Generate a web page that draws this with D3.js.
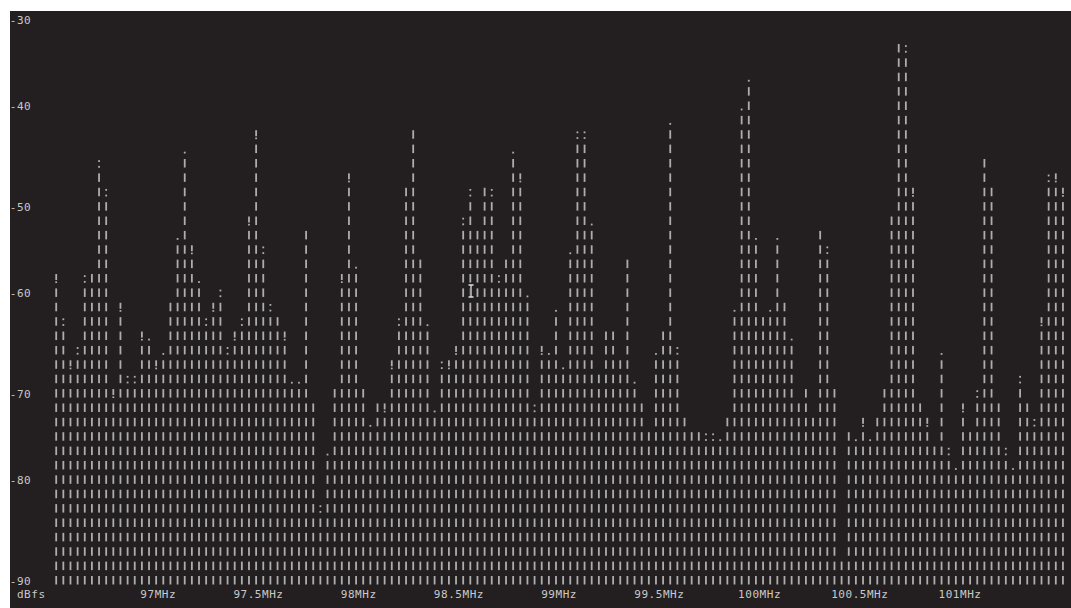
<!DOCTYPE html>
<html>
<head>
<meta charset="utf-8">
<script src="https://cdn.jsdelivr.net/npm/d3@7"></script>
<style>
  html, body { margin: 0; background: #ffffff; }
  svg { display: block; }
</style>
</head>
<body>
<svg id="chart" width="1071" height="608"></svg>
<script>
// Power sweep: one level per frequency bin, in dBFS
const startMHz = 96.491;
const binMHz = 0.03562;
const levels = [
  -58.1, -63.1, -67.3, -66.2, -58.5, -57.7, -46.2, -49.2, -70.4, -61.2,
  -69.2, -69.2, -64.2, -65.0, -67.3, -66.5, -60.8, -54.2, -45.0, -55.0,
  -58.8, -63.1, -61.2, -60.0, -66.2, -64.2, -63.1, -51.9, -42.7, -55.4,
  -61.5, -62.3, -64.2, -69.6, -69.6, -53.1, -71.5, -83.1, -77.3, -70.0,
  -58.1, -47.3, -57.3, -70.0, -74.2, -71.5, -71.9, -67.3, -63.1, -48.5,
  -42.3, -56.2, -63.5, -72.7, -67.7, -67.3, -65.8, -52.3, -49.2, -53.1,
  -48.5, -49.2, -58.5, -56.2, -45.0, -47.3, -60.4, -72.3, -65.8, -66.5,
  -61.9, -68.1, -55.8, -43.1, -43.1, -52.7, -68.5, -63.8, -63.8, -66.9,
  -56.2, -69.6, -71.5, -74.6, -66.5, -63.8, -41.9, -66.2, -73.1, -74.6,
  -74.6, -75.4, -75.4, -75.8, -73.1, -61.9, -40.4, -37.3, -54.2, -62.3,
  -61.9, -54.2, -60.8, -65.0, -71.5, -70.0, -73.1, -53.1, -55.4, -70.0,
  -88.5, -74.6, -75.8, -73.5, -75.8, -73.1, -70.0, -51.5, -33.1, -33.8,
  -48.8, -71.5, -73.5, -76.2, -66.5, -76.9, -78.8, -71.9, -74.6, -70.8,
  -45.4, -48.5, -71.5, -76.9, -78.8, -69.2, -71.5, -73.8, -62.7, -47.7,
  -47.3, -48.8
];
const dbTicks = [-30, -40, -50, -60, -70, -80, -90];
const freqTicks = [97, 97.5, 98, 98.5, 99, 99.5, 100, 100.5, 101];
const freqTickLabels = ["97MHz", "97.5MHz", "98MHz", "98.5MHz", "99MHz", "99.5MHz", "100MHz", "100.5MHz", "101MHz"];
const unitLabel = "dBfs";

// Character-cell terminal layout
const W = 1071, H = 608;
const cellW = 7.14;          // one character column
const originX = 9.8;         // left edge of column 0
const rowCount = 39;         // text rows between the -30 and -90 lines
const topRowY = 19.7, bottomRowY = 580.5;

const svg = d3.select("#chart");

svg.append("rect")
  .attr("x", 10).attr("y", 11)
  .attr("width", W - 10).attr("height", H - 11)
  .attr("fill", "#231f20");

const freqs = levels.map((_, i) => startMHz + i * binMHz);

// frequency -> pixel, level -> text row, text row -> pixel
const x = d3.scaleLinear()
  .domain([startMHz, startMHz + (levels.length - 1) * binMHz])
  .range([56.2, 56.2 + (levels.length - 1) * cellW]);
const rowOf = d3.scaleLinear().domain([-30, -90]).range([0, rowCount]);
const yOfRow = d3.scaleLinear().domain([0, rowCount]).range([topRowY, bottomRowY]);

// Partial-cell glyphs for the top of each column, drawn as strokes
const glyphs = {
  "|": [[-4.5, 8.5]],
  "!": [[-4.5, 6.0], [2.8, 1.7]],
  ":": [[-3.3, 1.8], [2.4, 1.8]],
  ".": [[2.6, 1.8]]
};
function topGlyph(fill) {
  if (fill > 0.875) return "|";
  if (fill > 0.625) return "!";
  if (fill > 0.375) return ":";
  if (fill > 0.125) return ".";
  return "";
}

const strokes = [];
levels.forEach((v, i) => {
  const p = rowOf(v);
  const top = Math.floor(p + 1e-9);
  const fill = 1 - (p - top);
  for (let r = Math.max(top, 0); r <= rowCount; r++) {
    const ch = r === top ? topGlyph(fill) : "|";
    if (!ch) continue;
    glyphs[ch].forEach(([dy, h]) => {
      strokes.push({ cx: x(freqs[i]), y: yOfRow(r) + dy, h });
    });
  }
});

svg.append("g")
  .attr("fill", "#adadad")
  .selectAll("rect")
  .data(strokes)
  .join("rect")
  .attr("x", d => d.cx - 0.9)
  .attr("y", d => d.y)
  .attr("width", 1.8)
  .attr("height", d => d.h);

const textStyle = sel => sel
  .attr("font-family", "'DejaVu Sans Mono', monospace")
  .attr("font-size", 11)
  .attr("letter-spacing", "0.54px")
  .attr("fill", "#c9c9c9");

// dB scale on the left, snapped to text rows
svg.append("g")
  .selectAll("text")
  .data(dbTicks)
  .join("text")
  .call(textStyle)
  .attr("x", originX)
  .attr("y", d => yOfRow(Math.floor(rowOf(d) + 1e-9)) + 4)
  .text(d => String(d));

// unit and frequency labels on the bottom text row
const labelRowY = yOfRow(rowCount + 1) + 3.5;
svg.append("text")
  .call(textStyle)
  .attr("x", originX + cellW)
  .attr("y", labelRowY)
  .text(unitLabel);

svg.append("g")
  .selectAll("text")
  .data(freqTicks)
  .join("text")
  .call(textStyle)
  .attr("text-anchor", "middle")
  .attr("x", d => x(d))
  .attr("y", labelRowY)
  .text((d, i) => freqTickLabels[i]);

// text-cursor pointer resting over the plot
const px = 471, py = 285;
const beam = `M${px - 2.5},${py} H${px + 2.5} M${px},${py} V${py + 12} M${px - 2.5},${py + 12} H${px + 2.5}`;
svg.append("path").attr("d", beam)
  .attr("stroke", "#222").attr("stroke-width", 3).attr("fill", "none");
svg.append("path").attr("d", beam)
  .attr("stroke", "#e0e0e0").attr("stroke-width", 1.3).attr("fill", "none");
</script>
</body>
</html>
